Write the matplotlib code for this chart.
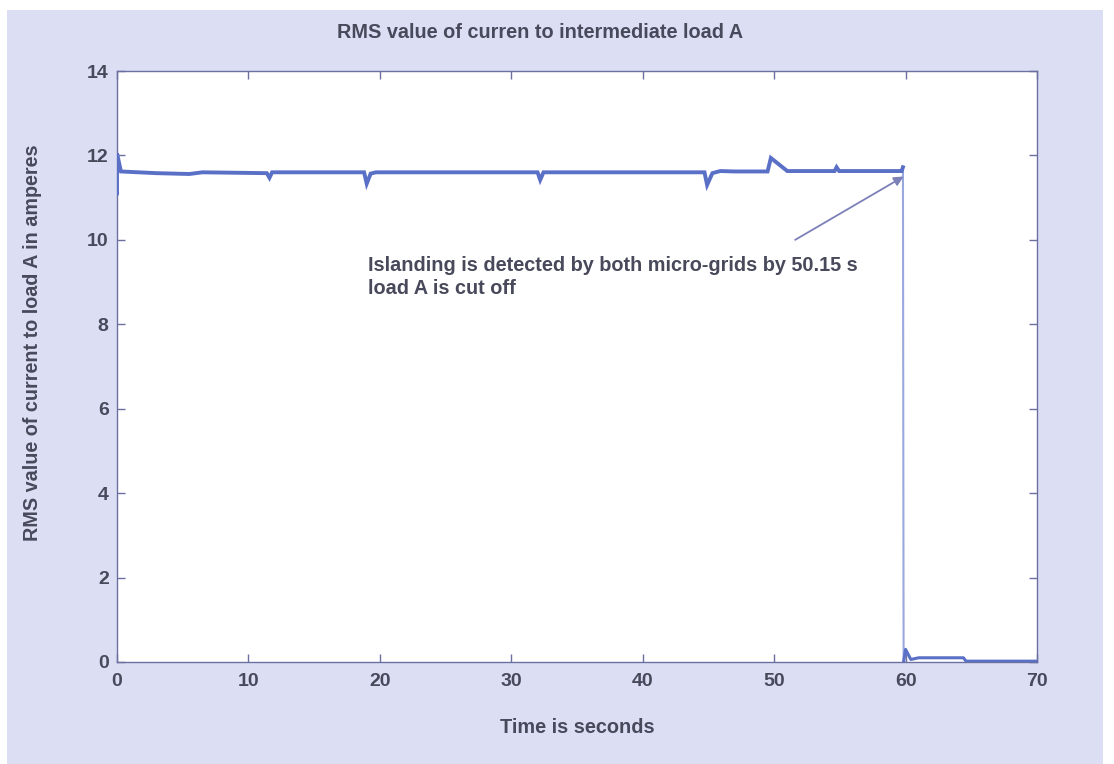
import matplotlib
matplotlib.use("Agg")
import matplotlib.pyplot as plt
from matplotlib.patches import Rectangle

plt.rcParams['font.family'] = ['Liberation Sans', 'DejaVu Sans']

# ---- data ----
pre_time = [0.0, 0.0, 0.3, 3.0, 5.5, 6.5, 11.4, 11.6, 11.8, 18.8, 19.0, 19.3, 19.7,
            26.0, 32.0, 32.2, 32.45, 38.0, 44.7, 44.9, 45.3, 45.9, 47.0, 49.5,
            49.75, 51.0, 54.6, 54.75, 54.95, 59.7, 59.8]
pre_current = [11.1, 12.05, 11.62, 11.58, 11.56, 11.6, 11.58, 11.47, 11.6, 11.6, 11.33,
               11.57, 11.6, 11.6, 11.6, 11.42, 11.6, 11.6, 11.6, 11.3, 11.58, 11.63,
               11.62, 11.62, 11.94, 11.63, 11.63, 11.72, 11.63, 11.63, 11.72]
post_time = [59.85, 60.0, 60.4, 61.0, 64.4, 64.6, 70.0]
post_current = [0.0, 0.3, 0.06, 0.1, 0.1, 0.02, 0.02]

title_text = "RMS value of curren to intermediate load A"
xlabel_text = "Time is seconds"
ylabel_text = "RMS value of current to load A in amperes"
note_text = "Islanding is detected by both micro-grids by 50.15 s\nload A is cut off"
note_pos = (19.1, 9.62)
arrow_tail = (51.6, 10.0)
arrow_head = (59.85, 11.5)
xticks = [0, 10, 20, 30, 40, 50, 60, 70]
yticks = [0, 2, 4, 6, 8, 10, 12, 14]

# ---- figure ----
W, H = 1114, 764
fig = plt.figure(figsize=(W / 100, H / 100), dpi=100, facecolor='white')
bg = '#dcdff4'
fig.patches.append(Rectangle((7 / W, 0), (1103 - 7) / W, (H - 10) / H,
                             transform=fig.transFigure, facecolor=bg,
                             edgecolor='none', zorder=-10))

ax = fig.add_axes([117 / W, 1 - 662 / H, (1037 - 117) / W, (662 - 71) / H])
ax.set_facecolor('white')

line_col = '#5a70c6'
ax.plot(pre_time, pre_current, color=line_col, lw=2.8, solid_joinstyle='miter', zorder=3)
ax.plot([pre_time[-1], post_time[0]], [pre_current[-1], post_current[0]],
        color='#9aa8e0', lw=1.5, zorder=2)
ax.plot(post_time, post_current, color=line_col, lw=2.2, zorder=3)

ax.set_xlim(0, 70)
ax.set_ylim(0, 14)
ax.set_xticks(xticks)
ax.set_yticks(yticks)

txt_col = '#48495a'
spine_col = '#6b70a0'
for s in ax.spines.values():
    s.set_color(spine_col)
    s.set_linewidth(1.0)
ax.tick_params(direction='in', length=6, width=1, color=spine_col,
               top=True, right=True, labelsize=14, labelcolor=txt_col)
ax.tick_params(axis='x', pad=8)
ax.tick_params(axis='y', pad=6)
for lbl in ax.get_xticklabels() + ax.get_yticklabels():
    lbl.set_fontweight('bold')

ax.set_title(title_text, fontsize=14.3, color=txt_col, pad=24, x=0.46, fontweight='bold')
ax.set_xlabel(xlabel_text, fontsize=14.3, color=txt_col, labelpad=20, fontweight='bold')
ax.set_ylabel(ylabel_text, fontsize=14.2, color=txt_col, fontweight='bold')
ax.yaxis.set_label_coords(-0.082, 0.54)

ax.text(note_pos[0], note_pos[1], note_text, fontsize=14.3, color=txt_col,
        va='top', ha='left', linespacing=1.3, fontweight='bold')
ax.annotate('', xy=arrow_head, xytext=arrow_tail,
            arrowprops=dict(arrowstyle='-|>', color='#7c80b8', lw=1.3,
                            mutation_scale=14, shrinkA=0, shrinkB=0))

fig.savefig('out.png', dpi=100, facecolor=fig.get_facecolor())
